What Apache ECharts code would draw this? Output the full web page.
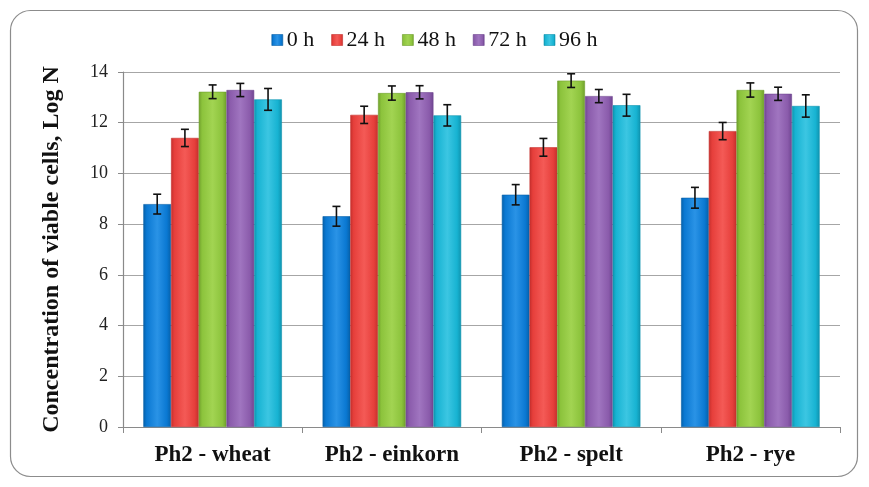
<!DOCTYPE html>
<html lang="en">
<head>
  <meta charset="UTF-8">
  <title>Viable cells</title>
  <script src="https://cdn.jsdelivr.net/npm/echarts@6.0.0/dist/echarts.min.js"></script>
  <style>
    html, body {
      margin: 0;
      padding: 0;
      background: #fff;
    }

    #main {
      width: 869px;
      height: 487px;
    }
  </style>
</head>
<body>
  <div id="main"></div>

  <script type="text/javascript">
    // data
    var categories = ['Ph2 - wheat', 'Ph2 - einkorn', 'Ph2 - spelt', 'Ph2 - rye']
    var hours = ['0 h', '24 h', '48 h', '72 h', '96 h']

    var values0h = [8.79, 8.31, 9.16, 9.04]
    var values24h = [11.40, 12.31, 11.03, 11.67]
    var values48h = [13.22, 13.17, 13.66, 13.29]
    var values72h = [13.29, 13.20, 13.05, 13.14]
    var values96h = [12.92, 12.29, 12.69, 12.66]

    var err0h = [0.39, 0.39, 0.40, 0.41]
    var err24h = [0.34, 0.34, 0.35, 0.34]
    var err48h = [0.27, 0.28, 0.27, 0.28]
    var err72h = [0.26, 0.26, 0.26, 0.26]
    var err96h = [0.43, 0.42, 0.43, 0.44]

    var yTicks = [0, 2, 4, 6, 8, 10, 12, 14]

    var allValues = [values0h, values24h, values48h, values72h, values96h]
    var allErrors = [err0h, err24h, err48h, err72h, err96h]

    // light / mid / dark per series
    var palette = [
      ['#2a93e6', '#0a78d2', '#0660a8'],
      ['#f45a56', '#e63f3b', '#c42f2c'],
      ['#a2d452', '#8cc33c', '#6f9f2c'],
      ['#a075c0', '#8a5bab', '#6f4590'],
      ['#3cc6e2', '#17b3d2', '#0f93ae']
    ]

    var catGap = 0.227

    function barColor(c) {
      return new echarts.graphic.LinearGradient(0, 0, 1, 0, [
        { offset: 0, color: c[2] },
        { offset: 0.12, color: c[1] },
        { offset: 0.5, color: c[0] },
        { offset: 0.85, color: c[1] },
        { offset: 1, color: c[2] }
      ])
    }

    var series = []
    hours.forEach(function(h, i) {
      series.push({
        name: h,
        type: 'bar',
        data: allValues[i],
        barGap: '0%',
        barCategoryGap: (catGap * 100) + '%',
        itemStyle: {
          color: barColor(palette[i]),
          borderColor: palette[i][2],
          borderWidth: 0.6
        },
        z: 2
      })
    })

    // error bars, one custom series per hour so they sit on their bar
    hours.forEach(function(h, i) {
      var pts = categories.map(function(c, k) {
        return [k, allValues[i][k], allErrors[i][k]]
      })
      series.push({
        type: 'custom',
        name: h + ' err',
        data: pts,
        z: 5,
        silent: true,
        renderItem: function(params, api) {
          var k = api.value(0)
          var v = api.value(1)
          var e = api.value(2)
          var band = api.size([1, 0])[0]
          var bw = band * (1 - catGap) / hours.length
          var center = api.coord([k, v])[0] + (i - (hours.length - 1) / 2) * bw
          var yTop = api.coord([k, v + e])[1]
          var yBot = api.coord([k, v - e])[1]
          var cap = 4
          var st = { stroke: '#111', lineWidth: 1.6 }
          return {
            type: 'group',
            children: [
              { type: 'line', shape: { x1: center, y1: yTop, x2: center, y2: yBot }, style: st },
              { type: 'line', shape: { x1: center - cap, y1: yTop, x2: center + cap, y2: yTop }, style: st },
              { type: 'line', shape: { x1: center - cap, y1: yBot, x2: center + cap, y2: yBot }, style: st }
            ]
          }
        }
      })
    })

    var myChart = echarts.init(document.getElementById('main'))

    var option = {
      animation: false,
      textStyle: { fontFamily: 'Liberation Serif' },
      graphic: [{
        type: 'rect',
        shape: { x: 10.5, y: 10.5, width: 847, height: 466, r: 20 },
        style: { fill: 'none', stroke: '#8c8c8c', lineWidth: 1.2 },
        z: 0
      }],
      legend: {
        data: hours.map(function(h, i) {
          return { name: h, itemStyle: { color: barColor(palette[i]), borderColor: palette[i][2], borderWidth: 0.6 } }
        }),
        top: 24,
        left: 'center',
        itemWidth: 11,
        itemHeight: 11,
        itemGap: 17,
        icon: 'rect',
        textStyle: { fontFamily: 'Liberation Serif', fontSize: 22, color: '#111', padding: [0, 0, 0, -1] }
      },
      grid: {
        left: 123,
        right: 29,
        top: 72,
        bottom: 60
      },
      xAxis: {
        type: 'category',
        data: categories,
        axisLine: { lineStyle: { color: '#8a8a8a', width: 1.2 } },
        axisTick: { show: true, length: 6, lineStyle: { color: '#8a8a8a' } },
        axisLabel: {
          margin: 17,
          fontFamily: 'Liberation Serif',
          fontSize: 23,
          fontWeight: 'bold',
          color: '#111'
        }
      },
      yAxis: {
        type: 'value',
        min: yTicks[0],
        max: yTicks[yTicks.length - 1],
        interval: 2,
        name: 'Concentration of viable cells, Log N',
        nameLocation: 'middle',
        nameGap: 59,
        nameTextStyle: {
          fontFamily: 'Liberation Serif',
          fontSize: 24,
          fontWeight: 'bold',
          color: '#111'
        },
        axisLine: { show: true, lineStyle: { color: '#8a8a8a', width: 1.2 } },
        axisTick: { show: true, length: 5, lineStyle: { color: '#8a8a8a' } },
        axisLabel: {
          margin: 15,
          fontFamily: 'Liberation Serif',
          fontSize: 18,
          color: '#222'
        },
        splitLine: { lineStyle: { color: '#a6a6a6', width: 1.2 } }
      },
      series: series
    }

    myChart.setOption(option)
  </script>
</body>
</html>
